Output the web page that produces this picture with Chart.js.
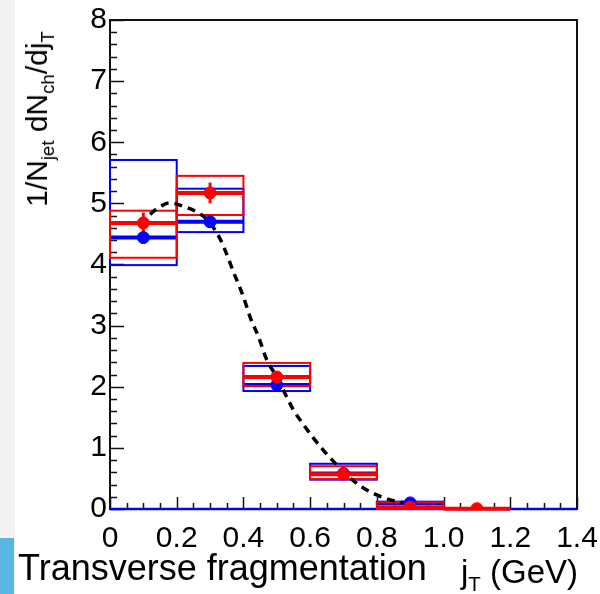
<!DOCTYPE html>
<html>
<head>
<meta charset="utf-8">
<title>Transverse fragmentation</title>
<script src="https://cdn.jsdelivr.net/npm/chart.js@4.4.1/dist/chart.umd.min.js"></script>
<style>
  html, body { margin: 0; padding: 0; background: #fff; }
  #wrap { position: relative; width: 600px; height: 594px; overflow: hidden; font-family: "Liberation Sans", Arial, sans-serif; color: #000; }
  #plot { position: absolute; left: 0; top: 0; }
  .strip { position: absolute; left: 0; top: 0; width: 15px; height: 594px; background: #f3f3f3; }
  .tab { position: absolute; left: 0; top: 538px; width: 14px; height: 56px; background: #58b6e2; }
  .ytitle { position: absolute; left: 37px; top: 119px; transform: translate(-50%, -50%) rotate(-90deg); font-size: 30px; line-height: 1; white-space: nowrap; }
  .caption { position: absolute; left: 18px; top: 550px; font-size: 36px; line-height: 1; white-space: nowrap; }
  .xtitle { position: absolute; right: 22px; top: 555px; font-size: 33px; line-height: 1; white-space: nowrap; }
  sub { font-size: 0.62em; vertical-align: -0.4em; line-height: 0; }
</style>
</head>
<body>
<div id="wrap">
  <canvas id="plot" width="600" height="594"></canvas>
  <div class="strip"></div>
  <div class="tab"></div>
  <div class="ytitle">1/N<sub>jet</sub> dN<sub>ch</sub>/dj<sub>T</sub></div>
  <div class="caption">Transverse fragmentation</div>
  <div class="xtitle">j<sub>T</sub> (GeV)</div>
</div>
<script>
  // jT bins (GeV)
  const binLo = [0.0, 0.2, 0.4, 0.6, 0.8, 1.0];
  const binHi = [0.2, 0.4, 0.6, 0.8, 1.0, 1.2];

  // red series: value, stat error, systematic band
  const redVal   = [4.68, 5.17, 2.16, 0.57, 0.03, 0.005];
  const redStat  = [0.17, 0.17, 0.06, 0.04, 0.01, 0.0];
  const redSysLo = [4.11, 4.81, 2.01, 0.49, 0.00, 0.005];
  const redSysHi = [4.88, 5.45, 2.39, 0.70, 0.11, 0.005];

  // blue series
  const blueVal   = [4.44, 4.70, 2.03, 0.58, 0.10];
  const blueStat  = [0.0, 0.0, 0.0, 0.0, 0.0];
  const blueSysLo = [3.99, 4.53, 1.93, 0.48, 0.08];
  const blueSysHi = [5.71, 5.24, 2.34, 0.74, 0.12];

  // dashed fit curve
  const fitX = [0.12, 0.14, 0.18, 0.22, 0.26, 0.29, 0.32, 0.34, 0.37, 0.40, 0.42, 0.445, 0.47, 0.50, 0.53, 0.55, 0.58, 0.61, 0.64, 0.675, 0.715, 0.755, 0.80, 0.84, 0.88];
  const fitY = [4.82, 4.91, 5.01, 4.95, 4.86, 4.74, 4.52, 4.30, 3.88, 3.47, 3.14, 2.82, 2.44, 2.16, 1.83, 1.62, 1.38, 1.16, 0.96, 0.75, 0.53, 0.36, 0.23, 0.15, 0.10];

  const xTicks = [0, 0.2, 0.4, 0.6, 0.8, 1.0, 1.2, 1.4];
  const yTicks = [0, 1, 2, 3, 4, 5, 6, 7, 8];
  const xMinorStep = 0.05;
  const yMinorStep = 0.2;

  const RED = "#ff0000";
  const BLUE = "#0000ff";
  const FONT = '"Liberation Sans", Arial, sans-serif';

  const centers = binLo.map((lo, i) => (lo + binHi[i]) / 2);
  const points = (vals) => vals.map((v, i) => ({ x: centers[i], y: v }));

  function drawSeries(ctx, x, y, color, val, stat, sysLo, sysHi) {
    ctx.strokeStyle = color;
    for (let i = 0; i < val.length; i++) {
      const x0 = x.getPixelForValue(binLo[i]);
      const x1 = x.getPixelForValue(binHi[i]);
      const xc = x.getPixelForValue(centers[i]);
      // systematic box
      ctx.lineWidth = 2;
      const yt = y.getPixelForValue(sysHi[i]);
      const yb = y.getPixelForValue(sysLo[i]);
      ctx.strokeRect(x0, yt, x1 - x0, yb - yt);
      // bin width
      ctx.lineWidth = 4;
      const yv = y.getPixelForValue(val[i]);
      ctx.beginPath();
      ctx.moveTo(x0, yv);
      ctx.lineTo(x1, yv);
      ctx.stroke();
      // statistical error
      if (stat[i] > 0) {
        ctx.lineWidth = 3;
        ctx.beginPath();
        ctx.moveTo(xc, y.getPixelForValue(val[i] + stat[i]));
        ctx.lineTo(xc, y.getPixelForValue(val[i] - stat[i]));
        ctx.stroke();
      }
    }
  }

  const framePlugin = {
    id: "frameAndBoxes",
    beforeDatasetsDraw(chart) {
      const { ctx, chartArea: a, scales: { x, y } } = chart;
      ctx.save();

      // frame
      ctx.strokeStyle = "#111";
      ctx.lineWidth = 2;
      ctx.strokeRect(a.left, a.top, a.right - a.left, a.bottom - a.top);

      // inward ticks on left and bottom axes
      ctx.lineWidth = 1.5;
      ctx.beginPath();
      for (let v = 0; v <= y.max + 1e-9; v += yMinorStep) {
        const major = Math.abs(v - Math.round(v)) < 1e-6;
        const py = Math.round(y.getPixelForValue(v)) + 0.5;
        ctx.moveTo(a.left, py);
        ctx.lineTo(a.left + (major ? 14 : 7), py);
      }
      for (let v = 0; v <= x.max + 1e-9; v += xMinorStep) {
        const major = Math.abs(v / 0.2 - Math.round(v / 0.2)) < 1e-6;
        const px = Math.round(x.getPixelForValue(v)) + 0.5;
        ctx.moveTo(px, a.bottom);
        ctx.lineTo(px, a.bottom - (major ? 12 : 6));
      }
      ctx.stroke();

      // blue baseline at zero across the full range
      ctx.strokeStyle = BLUE;
      ctx.lineWidth = 2.5;
      ctx.beginPath();
      ctx.moveTo(x.getPixelForValue(x.min), y.getPixelForValue(0));
      ctx.lineTo(x.getPixelForValue(x.max), y.getPixelForValue(0));
      ctx.stroke();

      drawSeries(ctx, x, y, BLUE, blueVal, blueStat, blueSysLo, blueSysHi);
      drawSeries(ctx, x, y, RED, redVal, redStat, redSysLo, redSysHi);
      ctx.restore();
    },
  };

  new Chart(document.getElementById("plot"), {
    type: "scatter",
    data: {
      datasets: [
        { label: "red", data: points(redVal), backgroundColor: RED, borderColor: RED, pointRadius: 6, pointHoverRadius: 6 },
        { label: "blue", data: points(blueVal), backgroundColor: BLUE, borderColor: BLUE, pointRadius: 6, pointHoverRadius: 6 },
        {
          type: "line", label: "fit",
          data: fitX.map((v, i) => ({ x: v, y: fitY[i] })),
          borderColor: "#000", borderWidth: 3.5, borderDash: [8, 6],
          pointRadius: 0, cubicInterpolationMode: "monotone", fill: false,
        },
      ],
    },
    options: {
      responsive: false,
      animation: false,
      events: [],
      layout: { padding: { left: 0, right: 23, top: 20, bottom: 0 } },
      plugins: { legend: { display: false }, tooltip: { enabled: false } },
      scales: {
        x: {
          type: "linear", min: 0, max: 1.4,
          afterBuildTicks: (s) => { s.ticks = xTicks.map((v) => ({ value: v })); },
          afterFit: (s) => { s.height = 85; s.paddingLeft = 0; s.paddingRight = 0; },
          grid: { display: false, drawTicks: false },
          border: { display: false },
          ticks: { color: "#000", font: { family: FONT, size: 30 }, padding: 12, maxRotation: 0, autoSkip: false },
        },
        y: {
          type: "linear", min: 0, max: 8,
          afterBuildTicks: (s) => { s.ticks = yTicks.map((v) => ({ value: v })); },
          afterFit: (s) => { s.width = 110; s.paddingTop = 0; s.paddingBottom = 0; },
          grid: { display: false, drawTicks: false },
          border: { display: false },
          ticks: { color: "#000", font: { family: FONT, size: 30 }, padding: 3, autoSkip: false },
        },
      },
    },
    plugins: [framePlugin],
  });
</script>
</body>
</html>
